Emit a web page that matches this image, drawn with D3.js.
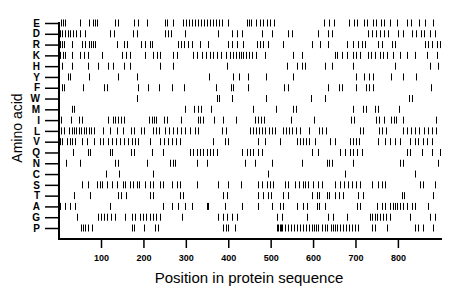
<!DOCTYPE html>
<html>
<head>
<meta charset="utf-8">
<script src="https://cdn.jsdelivr.net/npm/d3@7"></script>
<style>
  body { margin: 0; background: #fff; }
  svg { display: block; }
  text { font-family: "Liberation Sans", Arial, sans-serif; fill: #000; }
</style>
</head>
<body>
<svg id="chart"></svg>
<script>
const W = 460, H = 299;

// amino acids, top to bottom
const aminoAcids = ["E","D","R","K","H","Y","F","W","M","I","L","V","Q","N","C","S","T","A","G","P"];
const xTicks = [100, 200, 300, 400, 500, 600, 700, 800];
const seqLength = 904;

// residue positions per amino acid
const posE = [6,10,16,50,72,81,86,91,133,140,178,187,209,251,256,270,294,300,308,315,322,329,336,343,350,357,364,371,378,386,400,445,449,454,466,475,482,492,499,508,626,638,650,685,696,704,720,727,741,748,760,767,781,798,822,831,850,864,883];
const posD = [3,9,15,21,27,34,41,50,62,121,131,176,185,251,258,265,298,376,409,421,433,480,504,541,550,612,635,645,730,739,749,758,767,777,800,812,833,843,855,862,876,888];
const posR = [3,8,13,32,55,62,72,76,81,86,138,154,161,194,204,216,221,282,289,296,305,315,333,352,400,409,421,435,468,475,482,494,529,598,617,636,680,694,706,716,723,753,763,786,793,864,871,881,893,900];
const posK = [3,10,15,32,50,60,69,102,150,159,168,204,223,232,240,270,279,317,326,338,348,357,364,374,383,395,404,411,419,426,430,435,442,449,456,466,487,553,574,652,657,669,680,694,702,711,730,737,747,758,765,775,789,805,822,841,869,893];
const posH = [8,32,69,93,116,128,154,168,239,270,397,539,562,574,581,629,645,694,793,876,895];
const posY = [21,27,72,140,185,355,411,425,447,489,553,702,720,732,742,784,812,843];
const posF = [8,13,58,108,113,187,210,237,267,296,371,407,412,446,532,540,635,662,668,702,725,733,741,878];
const posW = [185,374,379,408,489,595,627,827,833];
const posM = [32,36,299,320,328,336,359,458,513,552,560,694,717,724,745,753,803];
const posI = [6,29,49,55,116,128,134,140,147,154,214,220,226,230,249,256,289,328,334,341,367,387,418,464,470,477,485,549,603,690,696,749,755,768,784,790,796,811,890];
const posL = [6,13,25,32,36,41,48,53,60,65,72,76,83,105,121,138,152,171,178,194,201,223,230,237,251,260,270,279,289,298,310,322,329,385,395,451,458,466,473,480,487,496,503,510,529,536,543,550,560,569,590,614,621,631,711,718,756,763,772,812,822,831,840,850,862,871,881,890];
const posV = [3,8,20,27,32,39,55,67,83,98,105,116,126,135,145,154,164,173,180,187,216,239,249,258,267,277,286,364,392,400,470,487,522,562,569,576,584,591,605,640,652,687,694,702,709,753,770,782,793,805,829,840,847,859,869,881];
const posQ = [34,69,74,121,126,171,178,220,246,310,317,326,333,341,350,357,364,374,433,445,451,458,470,480,598,612,664,675,687,694,704,716,822,829,857,881,900];
const posN = [17,50,133,140,208,263,270,274,326,350,440,463,503,574,633,638,645,694,805,812,895];
const posC = [112,142,223,494,676,841];
const posS = [55,69,91,98,102,114,126,138,152,157,168,175,185,190,204,216,223,239,246,267,279,286,326,376,400,430,470,480,492,499,506,534,541,558,567,576,581,588,600,612,621,652,664,673,683,692,701,711,739,753,763,770,852,859,888];
const posT = [36,74,140,147,159,216,223,286,293,388,397,470,482,494,501,529,541,598,609,614,633,638,652,661,671,706,718,810,815,883];
const posA = [3,15,27,39,121,246,267,282,298,315,350,352,392,433,470,504,522,529,562,576,586,609,614,629,704,711,751,763,770,782,789,794,798,805,812,822,834,841,871];
const posG = [43,93,100,107,114,124,133,157,173,180,192,199,206,216,223,230,239,291,376,388,397,409,421,515,527,586,636,647,680,734,739,746,751,758,765,772,782,829,876,888];
const posP = [53,58,62,69,79,173,178,201,227,234,388,395,400,416,515,518,522,525,527,534,541,548,555,562,569,576,584,591,598,602,607,612,621,629,633,643,647,652,657,664,671,678,685,692,699,706,739,746,774,841,847,859,883];

const positions = {
  E: posE, D: posD, R: posR, K: posK, H: posH, Y: posY, F: posF, W: posW, M: posM, I: posI,
  L: posL, V: posV, Q: posQ, N: posN, C: posC, S: posS, T: posT, A: posA, G: posG, P: posP
};

const plotLeft = 59, plotRight = 442, plotBottom = 239;

const svg = d3.select("#chart").attr("width", W).attr("height", H);

const x = d3.scaleLinear().domain([0, seqLength]).range([58.6, plotRight]);
const y = d3.scalePoint().domain(aminoAcids).range([23, 228]);

// residue marks
aminoAcids.forEach(aa => {
  svg.append("g")
    .selectAll("line")
    .data(positions[aa])
    .enter()
    .append("line")
    .attr("x1", d => Math.round(x(d)) + 0.5)
    .attr("x2", d => Math.round(x(d)) + 0.5)
    .attr("y1", y(aa) - 3.5)
    .attr("y2", y(aa) + 3.5)
    .attr("stroke", "#000")
    .attr("stroke-width", 1);
});

// y axis
const yAxis = svg.append("g")
  .attr("transform", `translate(${plotLeft},0)`)
  .call(d3.axisLeft(y).tickSize(14).tickPadding(5).tickSizeOuter(0));
yAxis.select(".domain").remove();
yAxis.selectAll(".tick line").attr("stroke", "#000").attr("stroke-width", 1.5);
yAxis.selectAll(".tick text")
  .style("font-size", "10px")
  .style("font-weight", "bold");

// x axis
const xAxis = svg.append("g")
  .attr("transform", `translate(0,${plotBottom})`)
  .call(d3.axisBottom(x).tickValues(xTicks).tickSize(9).tickPadding(7).tickSizeOuter(0));
xAxis.select(".domain").remove();
xAxis.selectAll(".tick line").attr("stroke", "#000").attr("stroke-width", 1.5);
xAxis.selectAll(".tick text")
  .style("font-size", "9px")
  .style("font-weight", "bold");

// axis lines
svg.append("line")
  .attr("x1", plotLeft).attr("x2", plotLeft)
  .attr("y1", y("E") - 1).attr("y2", plotBottom + 1)
  .attr("stroke", "#000").attr("stroke-width", 2);
svg.append("line")
  .attr("x1", plotLeft - 1).attr("x2", plotRight)
  .attr("y1", plotBottom).attr("y2", plotBottom)
  .attr("stroke", "#000").attr("stroke-width", 2);

// titles
svg.append("text")
  .attr("x", 249)
  .attr("y", 283)
  .attr("text-anchor", "middle")
  .style("font-size", "15px")
  .text("Position in protein sequence");

svg.append("text")
  .attr("transform", "translate(22,128) rotate(-90)")
  .attr("text-anchor", "middle")
  .style("font-size", "14px")
  .text("Amino acid");
</script>
</body>
</html>
